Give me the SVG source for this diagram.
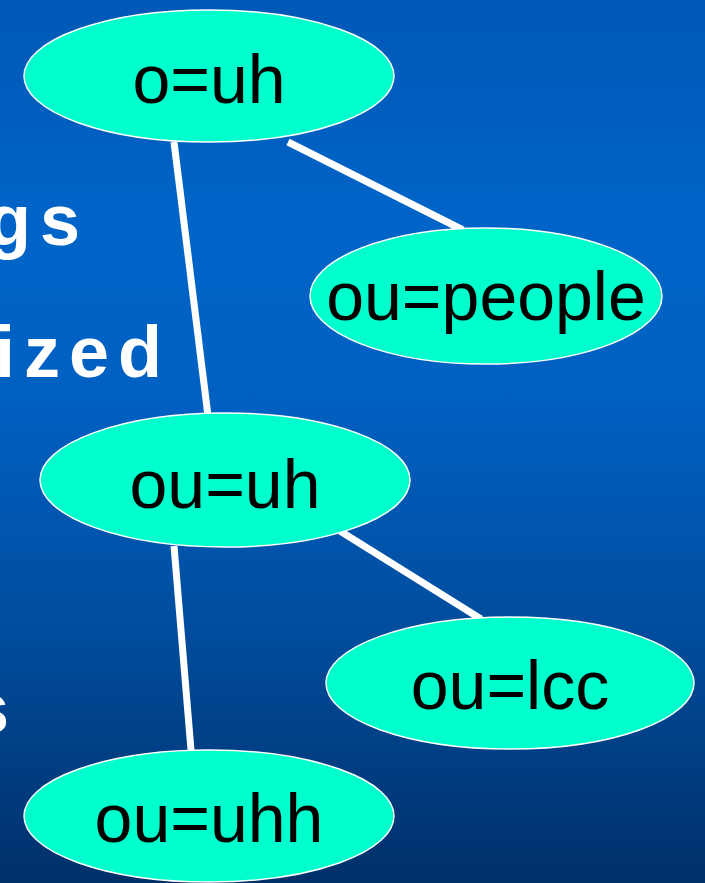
<svg xmlns="http://www.w3.org/2000/svg" width="705" height="883" viewBox="0 0 705 883">
<defs>
<linearGradient id="bg" x1="0" y1="0" x2="0" y2="1">
<stop offset="0" stop-color="#0058b6"/>
<stop offset="0.25" stop-color="#0064c8"/>
<stop offset="0.45" stop-color="#0060c2"/>
<stop offset="0.72" stop-color="#004c9c"/>
<stop offset="1" stop-color="#00306a"/>
</linearGradient>
<style>
.node ellipse{fill:#00ffcc;stroke:#ffffff;stroke-width:1.5}
.node text{font-family:"Liberation Sans",Arial,sans-serif;font-size:68px;fill:#000000;text-anchor:middle}
.bgtext{font-family:"Liberation Sans",Arial,sans-serif;font-weight:bold;font-size:72px;fill:#ffffff;letter-spacing:9px}
.edge{stroke:#ffffff;stroke-width:7;fill:none}
</style>
</defs>
<rect x="0" y="0" width="705" height="883" fill="url(#bg)"/>
<text class="bgtext" x="-13" y="245">gs</text>
<text class="bgtext" x="-5" y="377">ized</text>
<text class="bgtext" x="-31" y="733">s</text>
<g id="connectors">
<line class="edge" x1="174" y1="142" x2="208" y2="416"/>
<line class="edge" x1="288" y1="142" x2="463" y2="230"/>
<line class="edge" x1="174" y1="546" x2="191" y2="750"/>
<line class="edge" x1="340" y1="531" x2="481" y2="619"/>
</g>
<g id="node-o-uh" class="node">
<ellipse cx="209" cy="76" rx="185" ry="66"/>
<text x="209" y="103">o=uh</text>
</g>
<g id="node-ou-people" class="node">
<ellipse cx="486" cy="296" rx="176" ry="68"/>
<text x="486" y="320">ou=people</text>
</g>
<g id="node-ou-uh" class="node">
<ellipse cx="225" cy="480" rx="185" ry="67"/>
<text x="225" y="508">ou=uh</text>
</g>
<g id="node-ou-lcc" class="node">
<ellipse cx="510" cy="683" rx="184" ry="66"/>
<text x="510" y="709">ou=lcc</text>
</g>
<g id="node-ou-uhh" class="node">
<ellipse cx="209" cy="816" rx="185" ry="66"/>
<text x="209" y="842">ou=uhh</text>
</g>
</svg>
